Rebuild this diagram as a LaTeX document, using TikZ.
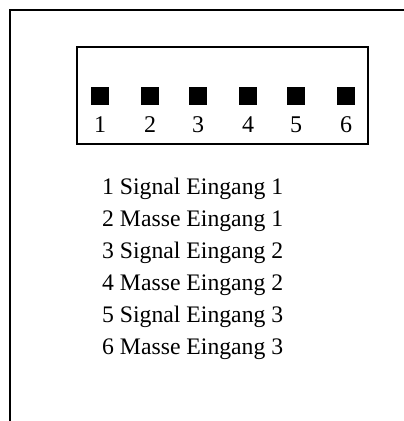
\documentclass[tikz,border=0pt]{standalone}
\usepackage{fontspec}
\setmainfont{Liberation Serif}
\usetikzlibrary{positioning}

\tikzset{
  kontakt/.style={fill=black, inner sep=0pt, minimum size=18pt},
  zeile/.style={anchor=base west, inner sep=0pt, font=\fontsize{23.7}{28}\selectfont},
  nummer/.style={anchor=base, inner sep=0pt, font=\fontsize{24}{28}\selectfont}
}

\begin{document}
\begin{tikzpicture}[x=1pt,y=1pt]
		\useasboundingbox (0,0) rectangle (404,421);
        % outer frame (left and top edge only)
		\draw[line width=2pt] (10,0) -- (10,411) -- (404,411);
        % connector housing
		\node[draw, line width=1.8pt, minimum width=291pt, minimum height=97pt] (stecker) at (222.5,325.5) {};
		\foreach \i/\x in {1/100,2/150,3/198,4/248,5/296,6/346} {
			\node[kontakt] (p\i) at (\x,325) {};
			\node[nummer] (n\i) at (\x,288) {\i};
		}
        % pin list
		\foreach \i/\t in {1/Signal Eingang 1,2/Masse Eingang 1,3/Signal Eingang 2,
		                   4/Masse Eingang 2,5/Signal Eingang 3,6/Masse Eingang 3} {
			\node[zeile] (z\i) at (102,{258-32*\i}) {\i\ \t};
		}
	\end{tikzpicture}
\end{document}
